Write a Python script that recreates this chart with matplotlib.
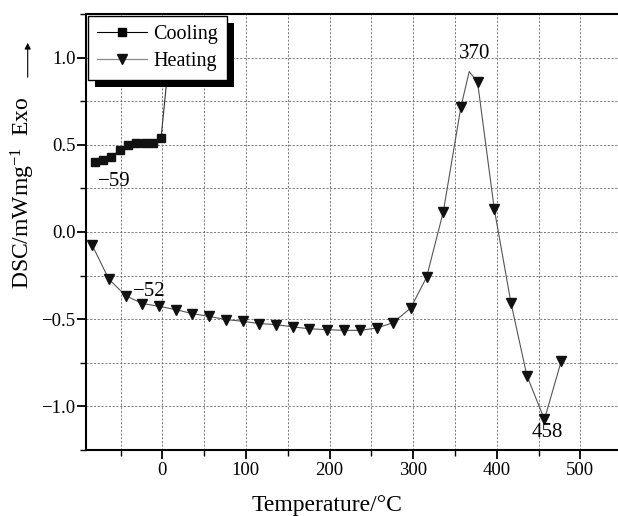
import matplotlib
matplotlib.use('Agg')
import matplotlib.pyplot as plt
from matplotlib.patches import Rectangle
from matplotlib.ticker import MultipleLocator

plt.rcParams['font.family'] = ['Liberation Serif', 'DejaVu Serif']
plt.rcParams['mathtext.fontset'] = 'custom'
plt.rcParams['mathtext.rm'] = 'Liberation Serif'
plt.rcParams['mathtext.it'] = 'Liberation Serif:italic'

# cooling run (squares)
cool_t = [-81, -71, -61, -51, -41, -31, -21, -11, -1.5]
cool_v = [0.40, 0.41, 0.43, 0.47, 0.50, 0.51, 0.51, 0.51, 0.54]
# cooling trace continues upward behind the legend
cool_tail_t = [-1.5, 4.5, 12]
cool_tail_v = [0.54, 0.83, 1.2]

# heating run (down triangles)
heat_t = [-84, -64, -44, -24, -4, 16, 36, 56, 76, 96, 116, 136, 156, 176,
          197, 217, 237, 257, 276, 297, 316, 336, 357, 377,
          397, 417, 436, 457, 477]
heat_v = [-0.075, -0.27, -0.365, -0.41, -0.426, -0.445, -0.468, -0.484, -0.502,
          -0.512, -0.525, -0.531, -0.544, -0.555,
          -0.56, -0.564, -0.564, -0.55, -0.52, -0.436, -0.26, 0.115, 0.714, 0.86,
          0.132, -0.407, -0.823, -1.075, -0.742]
# apex of the drawn curve between the two peak markers
apex_t, apex_v = 367, 0.92

note_text = ['\u221259', '\u221252', '370', '458']
note_t = [-58, -16, 374, 461]
note_v = [0.29, -0.34, 1.022, -1.152]

fig = plt.figure(figsize=(6.18, 5.16), dpi=100)
W, H = 618, 516
ax = fig.add_axes([86 / W, (H - 450) / H, (W - 86) / W, (450 - 14) / H])

# line through heating points, with the apex inserted
i = heat_t.index(377)
line_t = heat_t[:i] + [apex_t] + heat_t[i:]
line_v = heat_v[:i] + [apex_v] + heat_v[i:]

ax.plot(cool_tail_t, cool_tail_v, color='#333333', lw=0.8, zorder=3)
ax.plot(cool_t, cool_v, color='#222222', lw=0.8, zorder=3)
ax.plot(cool_t, cool_v, 's', color='#111111', ms=5.3, zorder=4)
ax.plot(line_t, line_v, color='#555555', lw=0.8, zorder=3)
ax.plot(heat_t, heat_v, 'v', color='#111111', ms=7.5, zorder=4)

for s, x, y in zip(note_text, note_t, note_v):
    ax.text(x, y, s, fontsize=15, ha='center', va='center', zorder=6)

ax.set_xlim(-91.3, 545)
ax.set_ylim(-1.25, 1.25)
ax.xaxis.set_major_locator(MultipleLocator(100))
ax.xaxis.set_minor_locator(MultipleLocator(50))
ax.yaxis.set_major_locator(MultipleLocator(0.5))
ax.yaxis.set_minor_locator(MultipleLocator(0.25))
ax.set_xticks([0, 100, 200, 300, 400, 500])
ax.set_yticks([-1.0, -0.5, 0.0, 0.5, 1.0])
ax.set_yticklabels(['\u22121.0', '\u22120.5', '0.0', '0.5', '1.0'])

ax.grid(True, which='both', color='#666666', lw=0.6, ls=(0, (2.5, 2)))
ax.set_axisbelow(True)
ax.tick_params(which='major', direction='out', length=6.5, width=1.3, labelsize=13.5, pad=2)
ax.tick_params(which='minor', direction='out', length=4, width=1.0)
ax.tick_params(axis='y', which='major', pad=1)
for side in ['left', 'bottom', 'top']:
    ax.spines[side].set_linewidth(1.5)
ax.spines['right'].set_visible(False)

fig.text(327.5 / W, 1 - 505 / H, 'Temperature/\u00b0C', fontsize=17, ha='center', va='center')
fig.text(23 / W, 1 - 193 / H, 'DSC/mWmg$^{\u22121}$  Exo', fontsize=17, rotation=90,
         ha='center', va='center')
ax.annotate('', xy=(27.7, H - 40), xytext=(27.7, H - 80), xycoords='figure pixels',
            textcoords='figure pixels',
            arrowprops=dict(arrowstyle='-|>', lw=0.8, color='black', mutation_scale=9))

# legend handles
h1, = ax.plot([], [], '-s', color='black', ms=5.3, lw=0.8)
h2, = ax.plot([], [], '-v', color='#888888', mfc='#111111', mec='#111111', ms=7.5, lw=0.9)
leg = ax.legend([h1, h2], ['Cooling', 'Heating'], loc='upper left',
                bbox_to_anchor=(0.0, 1.0), borderaxespad=0.1, fontsize=14.5,
                frameon=True, fancybox=False, framealpha=1, edgecolor='black',
                handlelength=2.5, handletextpad=0.3, borderpad=0.45, labelspacing=0.4)
leg.get_frame().set_linewidth(1.0)
leg.set_zorder(10)

fig.canvas.draw()
bb = leg.get_window_extent().transformed(ax.transAxes.inverted())
dx = 6.5 / (W - 86)
dy = 7 / (450 - 14)
ax.add_patch(Rectangle((bb.x0 + dx, bb.y0 - dy), bb.width, bb.height,
                       transform=ax.transAxes, facecolor='black', edgecolor='none',
                       zorder=9, clip_on=False))

fig.savefig('out.png', dpi=100)
